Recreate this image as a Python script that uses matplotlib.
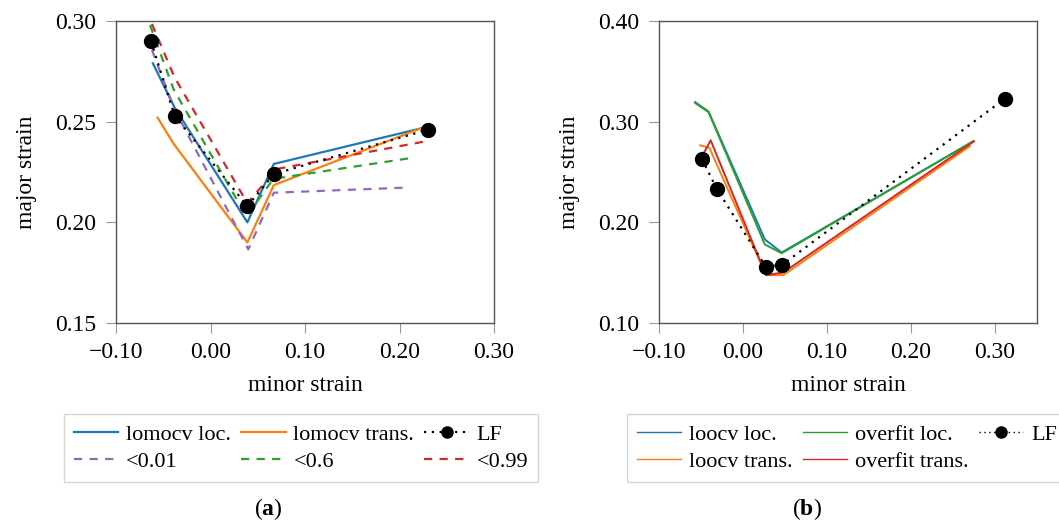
import matplotlib
matplotlib.use("Agg")
import matplotlib.pyplot as plt
from matplotlib.ticker import FuncFormatter
from matplotlib.lines import Line2D

plt.rcParams['font.family'] = ['Liberation Serif', 'DejaVu Serif']
plt.rcParams['font.size'] = 17
plt.rcParams['mathtext.fontset'] = 'custom'
plt.rcParams['mathtext.rm'] = 'Liberation Serif'
plt.rcParams['mathtext.bf'] = 'Liberation Serif:bold'

# ---- panel (a) data ----
lf_a_x = [-0.063, -0.038, 0.039, 0.067, 0.230]
lf_a_y = [0.290, 0.253, 0.208, 0.224, 0.246]

loc_a_x = [-0.061, -0.038, 0.039, 0.067, 0.230]
loc_a_y = [0.279, 0.257, 0.200, 0.229, 0.2475]

trans_a_x = [-0.056, -0.039, 0.039, 0.067, 0.227]
trans_a_y = [0.252, 0.239, 0.190, 0.2185, 0.2475]

p001_x = [-0.062, -0.038, 0.040, 0.067, 0.204]
p001_y = [0.2856, 0.256, 0.1866, 0.2147, 0.2172]

p06_x = [-0.064, -0.039, 0.038, 0.0665, 0.213]
p06_y = [0.298, 0.266, 0.203, 0.2216, 0.232]

p099_x = [-0.062, -0.038, 0.039, 0.070, 0.225]
p099_y = [0.2985, 0.272, 0.2095, 0.2265, 0.240]

# ---- panel (b) data ----
lf_b_x = [-0.049, -0.031, 0.027, 0.047, 0.312]
lf_b_y = [0.263, 0.233, 0.156, 0.158, 0.323]

loocv_loc_x = [-0.057, -0.041, 0.026, 0.046, 0.274]
loocv_loc_y = [0.3195, 0.310, 0.183, 0.170, 0.2805]

overfit_loc_x = [-0.057, -0.041, 0.026, 0.046, 0.274]
overfit_loc_y = [0.3185, 0.3095, 0.178, 0.1693, 0.2805]

loocv_trans_x = [-0.051, -0.040, 0.0274, 0.048, 0.270]
loocv_trans_y = [0.2765, 0.274, 0.1475, 0.1475, 0.2756]

overfit_trans_x = [-0.047, -0.0385, 0.0274, 0.048, 0.275]
overfit_trans_y = [0.2683, 0.2815, 0.1475, 0.1502, 0.2805]

W, H = 1059, 521
fig = plt.figure(figsize=(W / 100, H / 100), dpi=100)
ax1 = fig.add_axes([116 / W, 1 - 323 / H, 378 / W, 302 / H])
ax2 = fig.add_axes([659 / W, 1 - 323 / H, 378 / W, 302 / H])

dash = (0, (3.7, 3.3))
dot = (0, (1, 2.5))

# panel (a)
ax1.plot(loc_a_x, loc_a_y, color='#1f77b4', lw=1.6)
ax1.plot(trans_a_x, trans_a_y, color='#ff7f0e', lw=1.6)
ax1.plot(p001_x, p001_y, color='#9467bd', lw=1.6, ls=dash)
ax1.plot(p06_x, p06_y, color='#2ca02c', lw=1.6, ls=dash)
ax1.plot(p099_x, p099_y, color='#d62728', lw=1.6, ls=dash)
ax1.plot(lf_a_x, lf_a_y, color='black', lw=1.6, ls=dot, marker='o', ms=10)

ax1.set_xlim(-0.1, 0.3)
ax1.set_ylim(0.15, 0.30)
ax1.set_xticks([-0.1, 0.0, 0.1, 0.2, 0.3])
ax1.set_yticks([0.15, 0.20, 0.25, 0.30])

# panel (b)
ax2.plot(loocv_loc_x, loocv_loc_y, color='#1f77b4', lw=1.4)
ax2.plot(overfit_loc_x, overfit_loc_y, color='#2ca02c', lw=1.4)
ax2.plot(loocv_trans_x, loocv_trans_y, color='#ff7f0e', lw=1.4)
ax2.plot(overfit_trans_x, overfit_trans_y, color='#d62728', lw=1.4)
ax2.plot(lf_b_x, lf_b_y, color='black', lw=1.6, ls=dot, marker='o', ms=10)

ax2.set_xlim(-0.1, 0.35)
ax2.set_ylim(0.10, 0.40)
ax2.set_xticks([-0.1, 0.0, 0.1, 0.2, 0.3])
ax2.set_yticks([0.10, 0.20, 0.30, 0.40])

fmt = FuncFormatter(lambda v, p: ('%.2f' % v).replace('-', '\u2212'))

for ax in (ax1, ax2):
    ax.xaxis.set_major_formatter(fmt)
    ax.yaxis.set_major_formatter(fmt)
    ax.tick_params(direction='out', length=7, width=0.8, color='#999999',
                   labelsize=17, pad=7)
    for s in ax.spines.values():
        s.set_color('#555555')
        s.set_linewidth(1.0)
    ax.set_xlabel('minor strain', fontsize=17, labelpad=8)
    ax.set_ylabel('major strain', fontsize=17, labelpad=13)

# legends
leg_kw = dict(ncol=3, loc='upper left', frameon=True, fancybox=False,
              edgecolor='#cccccc', fontsize=16, borderpad=0.45,
              handlelength=2.0, handletextpad=0.35, columnspacing=0.45,
              labelspacing=0.3, borderaxespad=0)

h_loc = Line2D([], [], color='#1f77b4', lw=1.6)
h_trans = Line2D([], [], color='#ff7f0e', lw=1.6)
h_lf = Line2D([], [], color='black', lw=1.6, ls=dot, marker='o', ms=8)
h_001 = Line2D([], [], color='#9467bd', lw=1.6, ls=dash)
h_06 = Line2D([], [], color='#2ca02c', lw=1.6, ls=dash)
h_099 = Line2D([], [], color='#d62728', lw=1.6, ls=dash)
legA = fig.legend([h_loc, h_001, h_trans, h_06, h_lf, h_099],
                  ['lomocv loc.', '<0.01', 'lomocv trans.', '<0.6', 'LF', '<0.99'],
                  bbox_to_anchor=(64 / W, 1 - 414 / H), **leg_kw)
legA.get_frame().set_linewidth(1.0)

g_ll = Line2D([], [], color='#1f77b4', lw=1.0)
g_lt = Line2D([], [], color='#ff7f0e', lw=1.0)
g_ol = Line2D([], [], color='#2ca02c', lw=1.0)
g_ot = Line2D([], [], color='#d62728', lw=1.0)
g_lf = Line2D([], [], color='black', lw=1.0, ls=dot, marker='o', ms=8)
legB = fig.legend([g_ll, g_lt, g_ol, g_ot, g_lf],
                  ['loocv loc.', 'loocv trans.', 'overfit loc.', 'overfit trans.', 'LF'],
                  bbox_to_anchor=(627 / W, 1 - 414 / H), **leg_kw)
legB.get_frame().set_linewidth(1.0)

fig.text(268 / W, 1 - 509 / H, r'($\mathbf{a}$)', ha='center', va='center', fontsize=17)
fig.text(807 / W, 1 - 509 / H, r'($\mathbf{b}$)', ha='center', va='center', fontsize=17)

fig.savefig('out.png', dpi=100)
